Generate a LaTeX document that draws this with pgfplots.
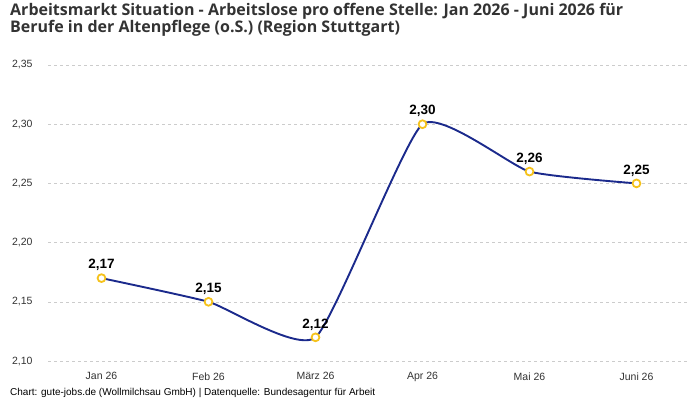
\documentclass[border=0pt]{standalone}
\usepackage{pgfplots}
\pgfplotsset{compat=1.18}
\usepackage{fontspec}
\setmainfont{Liberation Sans}
\newfontfamily\titlefont{Open Sans}
\definecolor{linecol}{HTML}{1B2A8C}
\definecolor{markcol}{HTML}{F5C21B}
\definecolor{gridcol}{HTML}{CCCCCC}
\definecolor{txtcol}{HTML}{333333}
\begin{document}
\begin{tikzpicture}[x=1pt,y=1pt]
\useasboundingbox (0,0) rectangle (700,400);
\node[anchor=north west, align=left, inner sep=0pt, font=\titlefont\bfseries\fontsize{16}{17.5}\selectfont, text=txtcol] at (10,397) {Arbeitsmarkt Situation - Arbeitslose pro offene Stelle: Jan 2026 - Juni 2026 für\\Berufe in der Altenpflege (o.S.) (Region Stuttgart)};
\begin{axis}[
  at={(48pt,39pt)}, anchor=south west,
  scale only axis, width=642pt, height=296pt,
  xmin=-0.5, xmax=5.5, ymin=2.10, ymax=2.35,
  xtick={0,1,2,3,4,5},
  xticklabels={Jan 26,Feb 26,März 26,Apr 26,Mai 26,Juni 26},
  ytick={2.10,2.15,2.20,2.25,2.30,2.35},
  axis line style={draw=none},
  major tick length=0pt,
  ymajorgrids, grid style={gridcol, dashed, line width=0.6pt},
  tick label style={font=\fontsize{10.5}{12}\selectfont, text=txtcol},
  /pgf/number format/assume math mode=true,
  yticklabel style={xshift=-12pt, /pgf/number format/use comma, /pgf/number format/fixed, /pgf/number format/fixed zerofill, /pgf/number format/precision=2},
  xticklabel style={yshift=-8pt},
  clip=false,
  nodes near coords,
  nodes near coords style={font=\bfseries\fontsize{13.5}{15}\selectfont, text=black, anchor=south, yshift=3pt, /pgf/number format/use comma, /pgf/number format/fixed, /pgf/number format/fixed zerofill, /pgf/number format/precision=2, /pgf/number format/assume math mode=true},
]
\addplot[linecol, line width=1.9pt, smooth, tension=0.3, mark=*, mark size=3.9pt, mark options={fill=white, draw=markcol, line width=1.8pt}] coordinates {
(0,2.17) (1,2.15) (2,2.12) (3,2.30) (4,2.26) (5,2.25)
};
\end{axis}
\node[anchor=west, inner sep=0pt, font=\fontsize{10}{11}\selectfont, text=black] at (10,7) {Chart: gute-jobs.de (Wollmilchsau GmbH) | Datenquelle: Bundesagentur für Arbeit};
\end{tikzpicture}
\end{document}
